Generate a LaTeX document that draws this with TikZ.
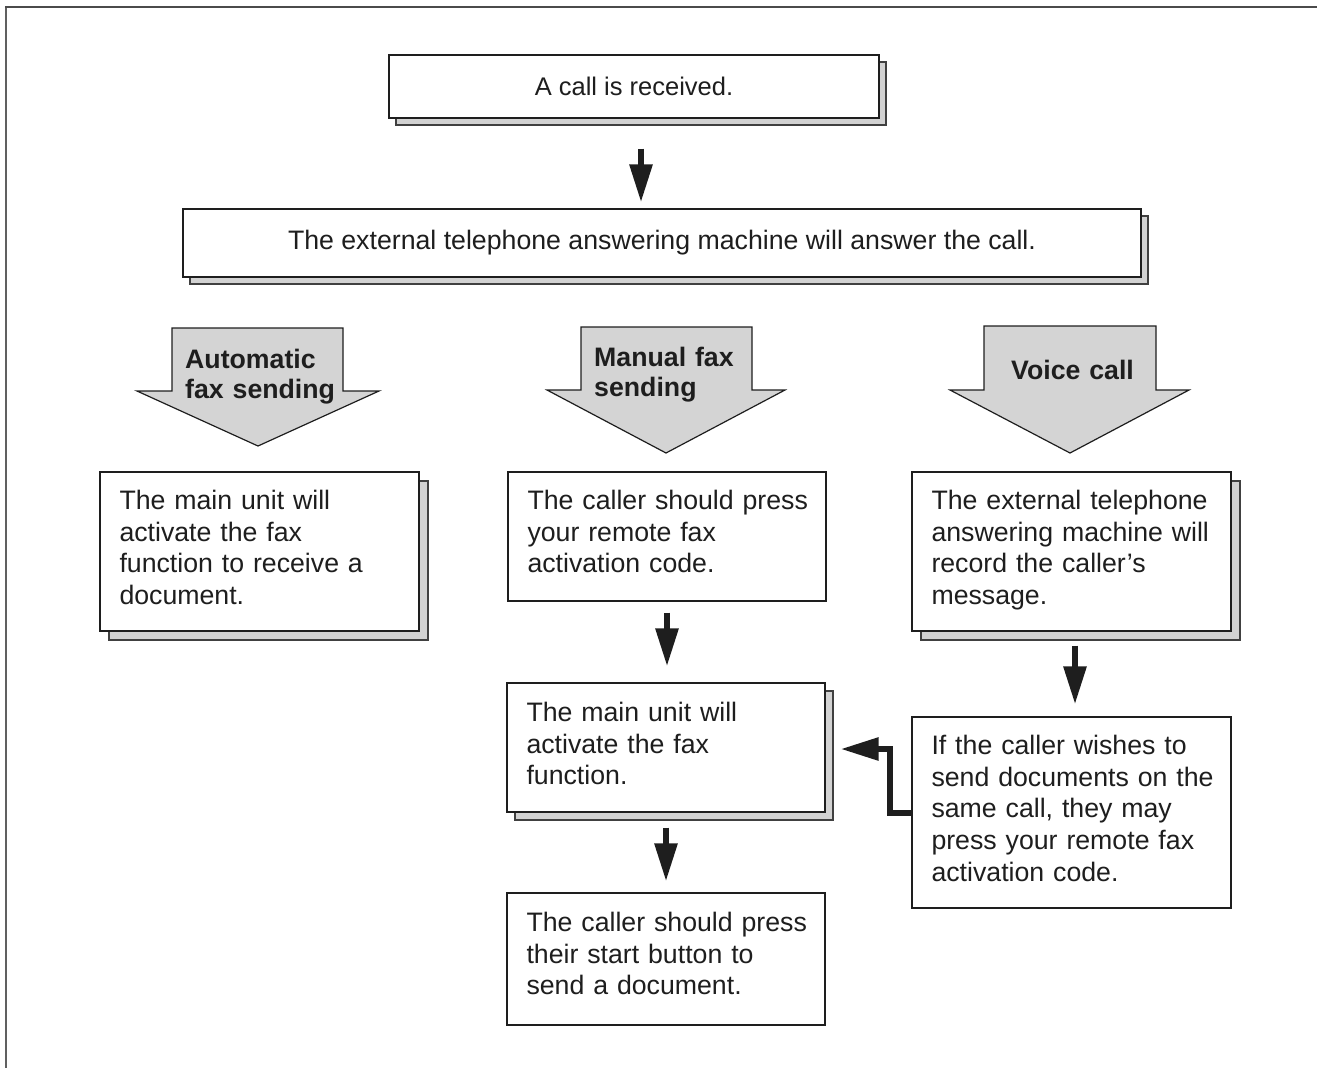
\documentclass[tikz,border=0pt]{standalone}
\usepackage{fontspec}
\setmainfont{Liberation Sans}
\usetikzlibrary{arrows.meta,calc}
\definecolor{shadowgray}{HTML}{D2D2D2}
\definecolor{arrowgray}{HTML}{D4D4D4}
\definecolor{linedark}{HTML}{1E1E1E}
\definecolor{framegray}{HTML}{606060}
\tikzset{
  every node/.style={font=\fontsize{26.7}{31.7}\selectfont, text=linedark},
  box/.style={draw=linedark, line width=1.4pt, fill=white, inner sep=0pt},
  shadowbox/.style={draw=linedark!85, line width=1.4pt, fill=shadowgray, inner sep=0pt},
  boxtext/.style={anchor=base west, inner sep=0pt, align=left, text width=300pt},
  arrowlabel/.style={anchor=base west, inner sep=0pt, align=left, text width=200pt,
    font=\fontsize{26.7}{30}\selectfont\bfseries},
  sarrow/.style={draw=linedark, line width=6pt, line join=miter, -{Triangle[length=38pt,width=22pt]}},
  bigarrow/.style={draw=linedark, line width=1.2pt, fill=arrowgray, line join=miter},
}
% name, x1, y1, x2, y2, options, text
\newcommand\flowrect[7]{%
  \node[box, #6, minimum width={(#4-#2)*1pt}, minimum height={(#5-#3)*1pt}] (#1) at ({(#2+#4)/2},{(#3+#5)/2}) {#7};}
% name, x1, y1, x2, y2, shift
\newcommand\shadowrect[6]{%
  \node[shadowbox, minimum width={(#4-#2)*1pt}, minimum height={(#5-#3)*1pt}] (#1) at ({(#2+#4)/2+#6},{(#3+#5)/2+#6}) {};}
\begin{document}
\begin{tikzpicture}[x=1pt,y=-1pt]
\useasboundingbox (0,0) rectangle (1317,1068);
% outer frame
\draw[framegray, line width=2.5pt] (6,1068) -- (6,7);
\draw[linedark!80, line width=2.5pt] (5,7) -- (1317,7);

% top boxes
\shadowrect{B1s}{389}{55}{879}{118}{7}
\flowrect{B1}{389}{55}{879}{118}{font=\fontsize{25.5}{30}\selectfont}{A call is received.}
\shadowrect{B2s}{183}{209}{1141}{277}{7}
\flowrect{B2}{183}{209}{1141}{277}{}{The external telephone answering machine will answer the call.}

% big gray arrows
\draw[bigarrow] (172,328) -- (343,328) -- (343,391) -- (379,391) -- (258,446) -- (137,391) -- (172,391) -- cycle;
\draw[bigarrow] (581,327) -- (752,327) -- (752,390) -- (785,390) -- (666,453) -- (547,390) -- (581,390) -- cycle;
\draw[bigarrow] (984,326) -- (1156,326) -- (1156,390) -- (1189,390) -- (1070,453) -- (950,390) -- (984,390) -- cycle;
\node[arrowlabel] (L1) at (185,368) {Automatic\\fax sending};
\node[arrowlabel] (L2) at (594,366) {Manual fax\\sending};
\node[arrowlabel] (L3) at (1011,379) {Voice call};

% third row
\shadowrect{As}{100}{472}{419}{631}{9}
\flowrect{A}{100}{472}{419}{631}{}{}
\node[boxtext] (At) at ($(A.north west)+(20,38)$) {The main unit will\\activate the fax\\function to receive a\\document.};

\flowrect{M}{508}{472}{826}{601}{}{}
\node[boxtext] (Mt) at ($(M.north west)+(20,38)$) {The caller should press\\your remote fax\\activation code.};

\shadowrect{Cs}{912}{472}{1231}{631}{9}
\flowrect{C}{912}{472}{1231}{631}{}{}
\node[boxtext] (Ct) at ($(C.north west)+(20,38)$) {The external telephone\\answering machine will\\record the caller’s\\message.};

% middle
\shadowrect{Ms}{507}{683}{825}{812}{8}
\flowrect{Mid}{507}{683}{825}{812}{}{}
\node[boxtext] (Midt) at ($(Mid.north west)+(20,39)$) {The main unit will\\activate the fax\\function.};

\flowrect{D}{912}{717}{1231}{908}{}{}
\node[boxtext] (Dt) at ($(D.north west)+(20,38)$) {If the caller wishes to\\send documents on the\\same call, they may\\press your remote fax\\activation code.};

\flowrect{E}{507}{893}{825}{1025}{}{}
\node[boxtext] (Et) at ($(E.north west)+(20,39)$) {The caller should press\\their start button to\\send a document.};

% connectors
\draw[sarrow, shorten <=30pt, shorten >=6pt] ([xshift=7pt]B1.south) -- ([xshift=7pt]B1.south |- B2.north);
\draw[sarrow, shorten <=11pt, shorten >=16pt] (M.south) -- (M.south |- Mid.north);
\draw[sarrow, shorten <=14pt, shorten >=12pt] ([xshift=3.5pt]C.south) -- ([xshift=3.5pt]C.south |- D.north);
\draw[sarrow, shorten <=15pt, shorten >=11pt] (Mid.south) -- (Mid.south |- E.north);
\draw[sarrow] (D.west) -- ++(-21,0) |- ([xshift=15pt,yshift=-1.5pt]Mid.east);
\end{tikzpicture}
\end{document}
